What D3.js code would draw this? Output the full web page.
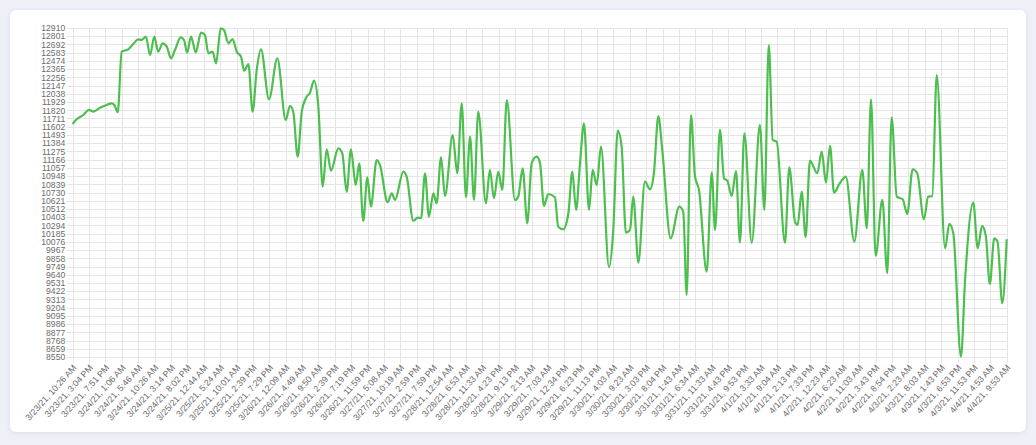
<!DOCTYPE html>
<html>
<head>
<meta charset="utf-8">
<script src="https://cdn.jsdelivr.net/npm/d3@7"></script>
<style>
  body { margin: 0; background: #eef0f8; width: 1036px; height: 445px; overflow: hidden; }
  .card {
    position: absolute; left: 10px; top: 10px; width: 1016px; height: 422px;
    background: #fff; border-radius: 6px; box-shadow: 0 1px 4px rgba(40, 50, 90, 0.10);
  }
  #chart { position: absolute; left: 0; top: 0; }
  .grid line { stroke: #e5e5e5; shape-rendering: crispEdges; }
  .tick text { font-family: "Liberation Sans", Arial, sans-serif; fill: #6b6b6b; }
</style>
</head>
<body>
<div class="card"></div>
<div id="chart"></div>
<script>
// Data
const timeLabels = [
  '3/23/21, 10:26 AM', '3/23/21, 3:04 PM', '3/23/21, 7:51 PM', '3/24/21, 1:06 AM', '3/24/21, 5:46 AM',
  '3/24/21, 10:26 AM', '3/24/21, 3:14 PM', '3/24/21, 8:02 PM', '3/25/21, 12:44 AM', '3/25/21, 5:24 AM',
  '3/25/21, 10:01 AM', '3/25/21, 2:39 PM', '3/25/21, 7:29 PM', '3/26/21, 12:09 AM', '3/26/21, 4:49 AM',
  '3/26/21, 9:50 AM', '3/26/21, 2:39 PM', '3/26/21, 7:19 PM', '3/26/21, 11:59 PM', '3/27/21, 5:08 AM',
  '3/27/21, 10:19 AM', '3/27/21, 2:59 PM', '3/27/21, 7:59 PM', '3/28/21, 12:54 AM', '3/28/21, 6:53 AM',
  '3/28/21, 11:33 AM', '3/28/21, 4:23 PM', '3/28/21, 9:13 PM', '3/29/21, 2:13 AM', '3/29/21, 7:03 AM',
  '3/29/21, 12:34 PM', '3/29/21, 6:23 PM', '3/29/21, 11:13 PM', '3/30/21, 4:03 AM', '3/30/21, 9:23 AM',
  '3/30/21, 3:03 PM', '3/30/21, 8:04 PM', '3/31/21, 1:43 AM', '3/31/21, 6:34 AM', '3/31/21, 11:33 AM',
  '3/31/21, 4:43 PM', '3/31/21, 9:53 PM', '4/1/21, 3:33 AM', '4/1/21, 9:04 AM', '4/1/21, 2:13 PM',
  '4/1/21, 7:33 PM', '4/2/21, 12:23 AM', '4/2/21, 6:23 AM', '4/2/21, 11:03 AM', '4/2/21, 3:43 PM',
  '4/2/21, 8:54 PM', '4/3/21, 2:23 AM', '4/3/21, 8:03 AM', '4/3/21, 1:43 PM', '4/3/21, 6:53 PM',
  '4/3/21, 11:53 PM', '4/4/21, 4:53 AM', '4/4/21, 9:53 AM'
];

const yTicks = [
  8550, 8659, 8768, 8877, 8986, 9095, 9204, 9313, 9422, 9531, 9640, 9749, 9858, 9967,
  10076, 10185, 10294, 10403, 10512, 10621, 10730, 10839, 10948, 11057, 11166, 11275,
  11384, 11493, 11602, 11711, 11820, 11929, 12038, 12147, 12256, 12365, 12474, 12583,
  12692, 12801, 12910
];

// where each point falls along the label axis (0 = first label)
const pointPos = [
  0, 0.24, 0.65, 0.99, 1.26, 1.67, 2.07, 2.38, 2.54, 2.75,
  2.99, 3.39, 3.70, 4.00, 4.21, 4.47, 4.72, 4.98, 5.22, 5.49,
  5.74, 6.00, 6.24, 6.59, 6.79, 6.99, 7.22, 7.51, 7.83, 8.07,
  8.28, 8.54, 8.75, 9.03, 9.23, 9.50, 9.76, 10.01, 10.27, 10.47,
  10.72, 10.98, 11.23, 11.49, 11.98, 12.49, 13.00, 13.26, 13.46, 13.73,
  13.98, 14.28, 14.48, 14.73, 14.99, 15.26, 15.50, 15.76, 16.21, 16.45,
  16.72, 16.98, 17.27, 17.49, 17.73, 17.98, 18.20, 18.55, 18.75, 19.22,
  19.47, 19.67, 20.18, 20.38, 20.79, 21.05, 21.26, 21.50, 21.74, 22.01,
  22.21, 22.48, 22.72, 23.19, 23.47, 23.74, 24.00, 24.25, 24.49, 24.75,
  25.22, 25.46, 25.71, 25.97, 26.22, 26.49, 26.99, 27.19, 27.46, 27.74,
  28.01, 28.32, 28.52, 28.76, 29.02, 29.43, 29.63, 29.94, 30.25, 30.49,
  30.72, 30.96, 31.20, 31.51, 31.73, 31.98, 32.24, 32.73, 32.99, 33.26,
  33.50, 33.76, 34.01, 34.21, 34.52, 34.92, 35.23, 35.47, 35.74, 35.98,
  36.49, 37.02, 37.26, 37.47, 37.73, 37.98, 38.22, 38.69, 39.00, 39.20,
  39.50, 39.75, 39.95, 40.22, 40.48, 40.72, 40.99, 41.44, 41.94, 42.21,
  42.48, 42.72, 42.96, 43.47, 43.73, 44.08, 44.24, 44.49, 44.73, 44.99,
  45.44, 45.71, 45.97, 46.22, 46.46, 46.79, 47.18, 47.70, 48.19, 48.46,
  48.72, 49.00, 49.41, 49.71, 49.98, 50.29, 50.65, 50.93, 51.26, 51.54,
  51.95, 52.21, 52.46, 52.73, 53.24, 53.50, 53.74, 54.21, 54.46, 54.96,
  55.23, 55.50, 55.73, 55.97, 56.24, 56.44, 56.73, 57.00
];

const pointValues = [
  11638, 11700, 11757, 11824, 11801, 11854, 11890, 11912, 11890, 11793,
  12596, 12628, 12698, 12760, 12751, 12795, 12552, 12795, 12596, 12707,
  12663, 12508, 12618, 12786, 12751, 12583, 12795, 12588, 12848, 12817,
  12575, 12596, 12442, 12906, 12883, 12707, 12764, 12596, 12530, 12344,
  12433, 11801, 12354, 12628, 11965, 12508, 11691, 11877, 11801, 11205,
  11801, 11999, 12053, 12212, 11867, 10807, 11303, 11019, 11316, 11250,
  10741, 11303, 10830, 11117, 10353, 10932, 10542, 11161, 11095, 10601,
  10720, 10631, 11006, 10940, 10353, 10397, 10389, 10985, 10410, 10720,
  10587, 11197, 10684, 11492, 10985, 11912, 10667, 11470, 10631, 11801,
  10587, 11029, 10653, 11006, 10764, 11956, 10631, 10675, 11051, 10322,
  11117, 11205, 11117, 10552, 10710, 10667, 10277, 10243, 10455, 11006,
  10499, 11117, 11647, 10499, 11029, 10830, 11337, 9739, 10234, 11549,
  11337, 10198, 10234, 10675, 9800, 10874, 10773, 10985, 11744, 11294,
  10123, 10542, 10476, 9372, 11757, 10940, 10764, 9681, 10993, 10234,
  11559, 10918, 10887, 10684, 11015, 10065, 11515, 10065, 11625, 10499,
  12685, 11426, 11404, 10065, 11064, 10344, 10300, 10741, 10137, 11152,
  10985, 11271, 10861, 11347, 10728, 10843, 10940, 10079, 11029, 10256,
  11965, 9889, 10631, 9660, 11727, 10675, 10640, 10446, 11038, 10985,
  10375, 10675, 10684, 12287, 9991, 10313, 10190, 8555, 9571, 10596,
  9991, 10287, 10145, 9518, 10123, 10079, 9262, 10110
];

const dataset = pointPos.map((p, i) => ({ pos: p, value: pointValues[i] }));

// Dimensions
const dimensions = {
  width: 1036,
  height: 445,
  left: 72.7,
  right: 1006.7,
  top: 28,
  bottom: 357,
  tickLen: 6,
};
dimensions.ctrWidth = dimensions.right - dimensions.left;
dimensions.ctrHeight = dimensions.bottom - dimensions.top;

const svg = d3.select('#chart')
  .append('svg')
  .attr('width', dimensions.width)
  .attr('height', dimensions.height);

// Scales
const xScale = d3.scaleLinear()
  .domain([0, timeLabels.length - 1])
  .range([dimensions.left, dimensions.right]);

const yScale = d3.scaleLinear()
  .domain([yTicks[0], yTicks[yTicks.length - 1]])
  .range([dimensions.bottom, dimensions.top]);

// Y axis + horizontal grid
const yAxis = d3.axisLeft(yScale)
  .tickValues(yTicks)
  .tickSizeInner(-(dimensions.ctrWidth + dimensions.tickLen))
  .tickSizeOuter(0)
  .tickPadding(1.5)
  .tickFormat(d => d);

const yAxisGroup = svg.append('g')
  .attr('class', 'grid')
  .attr('transform', `translate(${dimensions.left - dimensions.tickLen}, 0)`)
  .call(yAxis);
yAxisGroup.select('.domain').remove();
yAxisGroup.selectAll('text')
  .style('font-size', '8.6px');

// X axis + vertical grid
const xAxis = d3.axisBottom(xScale)
  .tickValues(d3.range(timeLabels.length))
  .tickSizeInner(-(dimensions.ctrHeight + dimensions.tickLen))
  .tickSizeOuter(0)
  .tickFormat(i => timeLabels[i]);

const xAxisGroup = svg.append('g')
  .attr('class', 'grid')
  .attr('transform', `translate(0, ${dimensions.bottom + dimensions.tickLen})`)
  .call(xAxis);
xAxisGroup.select('.domain').remove();
xAxisGroup.selectAll('text')
  .attr('y', 0)
  .attr('dy', '0.35em')
  .attr('x', 0)
  .attr('transform', 'translate(1.5, 3) rotate(-48)')
  .style('text-anchor', 'end')
  .style('font-size', '8.8px');

// Line
const lineGenerator = d3.line()
  .x(d => xScale(d.pos))
  .y(d => yScale(d.value))
  .curve(d3.curveMonotoneX);

svg.append('path')
  .datum(dataset)
  .attr('d', lineGenerator)
  .attr('fill', 'none')
  .attr('stroke', '#4cbf4f')
  .attr('stroke-width', 2.2)
  .attr('stroke-linejoin', 'round');
</script>
</body>
</html>
